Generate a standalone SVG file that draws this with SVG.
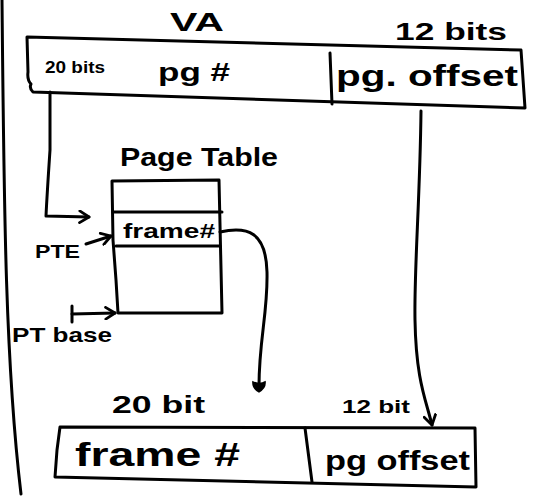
<svg xmlns="http://www.w3.org/2000/svg" width="539" height="498" viewBox="0 0 539 498">
<defs>
<style>
.ln{fill:none;stroke:#000;stroke-width:3;stroke-linecap:round;stroke-linejoin:round}
.tx{font-family:"Liberation Sans","DejaVu Sans",sans-serif;font-weight:bold;fill:#000}
</style>
<marker id="open" viewBox="0 0 12 12" refX="10" refY="6" markerWidth="14" markerHeight="14" markerUnits="userSpaceOnUse" orient="auto">
<path d="M2,1 L10,6 L2,11" fill="none" stroke="#000" stroke-width="2.4" stroke-linecap="round" stroke-linejoin="round"/>
</marker>
<marker id="blob" viewBox="0 0 12 12" refX="6" refY="6" markerWidth="16" markerHeight="16" markerUnits="userSpaceOnUse" orient="auto">
<path d="M2,1 Q5,6 2,11 Q8,12 11,6 Q8,0 2,1 Z" fill="#000"/>
</marker>
</defs>
<rect width="539" height="498" fill="#fff"/>
<path class="ln" d="M2,0 C4,200 5,360 21,494"/>
<g id="va">
<path class="ln" d="M27,37 L521,50 L525,108 L33,92 Q29,88 31,84 Q27,80 28,72 Z"/>
<path class="ln" d="M330,53 L332,104"/>
<text class="tx" x="170" y="31" font-size="26" textLength="54" lengthAdjust="spacingAndGlyphs">VA</text>
<text class="tx" x="395" y="40" font-size="24" textLength="112" lengthAdjust="spacingAndGlyphs">12 bits</text>
<text class="tx" x="45" y="73" font-size="16" textLength="60" lengthAdjust="spacingAndGlyphs">20 bits</text>
<text class="tx" x="158" y="81" font-size="26" textLength="72" lengthAdjust="spacingAndGlyphs">pg #</text>
<text class="tx" x="336" y="86" font-size="29" textLength="182" lengthAdjust="spacingAndGlyphs">pg. offset</text>
</g>
<g id="page-table">
<text class="tx" x="120" y="166" font-size="25" textLength="158" lengthAdjust="spacingAndGlyphs">Page Table</text>
<path class="ln" d="M112,181 L219,180 L222,313 L118,313 L116,280 L113,240 Z"/>
<path class="ln" d="M113,212 L222,212"/>
<path class="ln" d="M116,246 L220,246"/>
<text class="tx" x="123" y="238" font-size="20" textLength="92" lengthAdjust="spacingAndGlyphs">frame#</text>
</g>
<g id="labels">
<text class="tx" x="35" y="258" font-size="19" textLength="45" lengthAdjust="spacingAndGlyphs">PTE</text>
<text class="tx" x="12" y="342" font-size="21" textLength="100" lengthAdjust="spacingAndGlyphs">PT base</text>
</g>
<g id="pa">
<path class="ln" d="M60,427 L475,428 L476,487 L55,477 L57,450 Z"/>
<path class="ln" d="M305,428 L312,482"/>
<text class="tx" x="112" y="413" font-size="23" textLength="93" lengthAdjust="spacingAndGlyphs">20 bit</text>
<text class="tx" x="342" y="413" font-size="19" textLength="68" lengthAdjust="spacingAndGlyphs">12 bit</text>
<text class="tx" x="75" y="466" font-size="33" textLength="165" lengthAdjust="spacingAndGlyphs">frame #</text>
<text class="tx" x="325" y="470" font-size="28" textLength="145" lengthAdjust="spacingAndGlyphs">pg offset</text>
</g>
<g id="connectors">
<path class="ln" d="M50,92 L50,150 Q47,195 46,216 L89,217" marker-end="url(#open)"/>
<path class="ln" d="M86,244 L111,236" marker-end="url(#open)"/>
<path class="ln" d="M72,314 L115,313" marker-end="url(#open)"/>
<path class="ln" d="M72,306 L72,322"/>
<path class="ln" d="M220,232 C248,226 266,232 267,272 C268,312 259,340 259,386" marker-end="url(#blob)"/>
<path class="ln" d="M421,111 C420,200 414,270 415,320 C416,380 426,400 432,425" marker-end="url(#open)"/>
</g>
</svg>
